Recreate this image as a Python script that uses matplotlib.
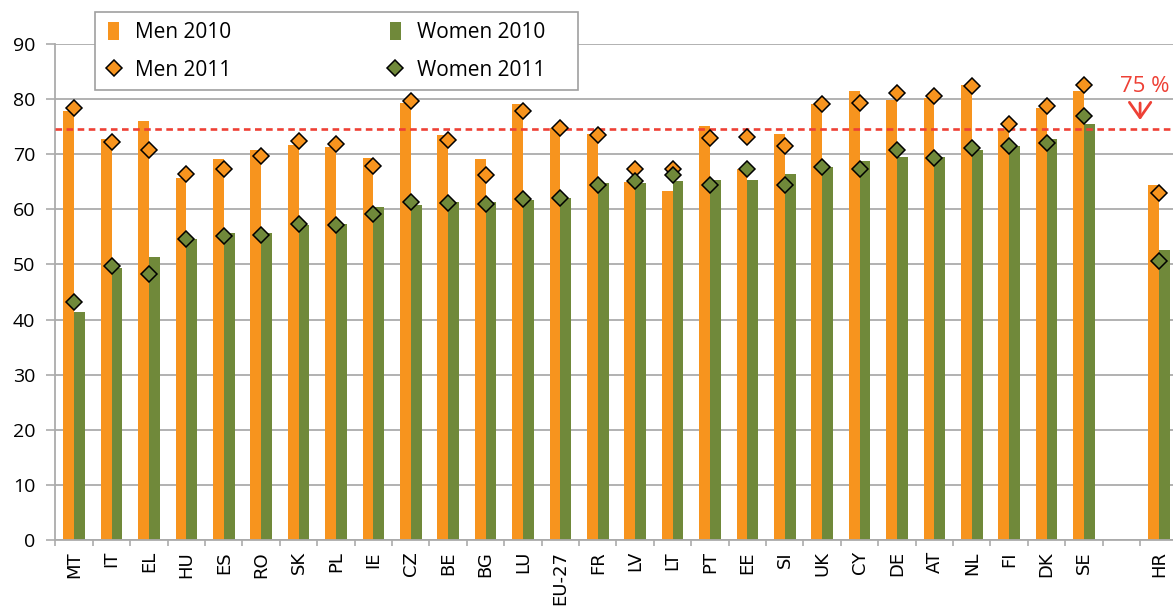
import numpy as np
import matplotlib
matplotlib.use('Agg')
import matplotlib.pyplot as plt
from matplotlib.patches import Patch, Rectangle
from matplotlib.lines import Line2D

# Employment rates by sex, 2010 (bars) and 2011 (diamonds)
countries = ['MT', 'IT', 'EL', 'HU', 'ES', 'RO', 'SK', 'PL', 'IE', 'CZ', 'BE', 'BG', 'LU', 'EU-27',
             'FR', 'LV', 'LT', 'PT', 'EE', 'SI', 'UK', 'CY', 'DE', 'AT', 'NL', 'FI', 'DK', 'SE', 'HR']
men_2010 = [77.8, 72.8, 76.1, 65.7, 69.1, 70.8, 71.7, 71.4, 69.4, 79.3, 73.5, 69.1, 79.2, 74.7,
            73.7, 65.0, 63.4, 75.1, 67.4, 73.7, 79.2, 81.5, 79.8, 80.2, 82.5, 74.5, 78.4, 81.5, 64.4]
women_2010 = [41.4, 49.4, 51.4, 54.7, 55.7, 55.7, 57.1, 57.4, 60.4, 60.7, 61.4, 61.4, 61.7, 62.1,
              64.7, 64.7, 65.1, 65.4, 65.4, 66.5, 67.7, 68.8, 69.5, 69.5, 70.8, 71.5, 72.8, 75.5, 52.7]
men_2011 = [78.4, 72.3, 70.7, 66.5, 67.3, 69.6, 72.4, 71.8, 67.9, 79.6, 72.6, 66.3, 77.8, 74.7,
            73.5, 67.4, 67.4, 73.0, 73.2, 71.5, 79.1, 79.3, 81.1, 80.5, 82.4, 75.4, 78.7, 82.6, 63.0]
women_2011 = [43.2, 49.7, 48.3, 54.6, 55.2, 55.3, 57.3, 57.2, 59.1, 61.3, 61.1, 60.9, 61.8, 62.0,
              64.4, 65.1, 66.3, 64.5, 67.4, 64.5, 67.7, 67.4, 70.8, 69.4, 71.1, 71.5, 72.1, 77.0, 50.7]
target = 74.5  # the "75 %" target line as drawn

ORANGE = '#F7941E'
GREEN = '#70893A'
RED = '#EE4035'
GRID = '#ABABAB'

plt.rcParams['font.family'] = ['Open Sans', 'DejaVu Sans']

# HR sits after an empty slot
x = np.array(list(range(len(countries) - 1)) + [len(countries)])
w = 0.287

fig = plt.figure(figsize=(11.73, 6.07), dpi=100)
ax = fig.add_axes([0.0473, 0.1104, 0.9527, 0.8171])

ax.bar(x - w / 2, men_2010, width=w, color=ORANGE, zorder=2)
ax.bar(x + w / 2, women_2010, width=w, color=GREEN, zorder=2)
ax.plot(x, men_2011, 'D', ms=8, mfc=ORANGE, mec='black', mew=1.1, zorder=4)
ax.plot(x, women_2011, 'D', ms=8, mfc=GREEN, mec='black', mew=1.1, zorder=4)

ax.axhline(target, color=RED, lw=1.9, dashes=(2.5, 1.7), zorder=3)
ax.text(28.62, 82.2, '75 %', color=RED, fontsize=16, ha='center', va='center')
ax.annotate('', xy=(28.5, 75.7), xytext=(28.5, 79.8),
            arrowprops=dict(arrowstyle='->, head_length=0.5, head_width=0.35',
                            color=RED, lw=2, mutation_scale=22))

ax.set_ylim(0, 90)
ax.set_xlim(-0.5, 29.38)
ax.set_yticks(range(0, 91, 10))
ax.yaxis.grid(True, color=GRID, lw=1.3)
ax.set_axisbelow(True)

ax.set_xticks(x)
ax.set_xticklabels(countries, rotation=90, fontsize=13, family='DejaVu Sans')
ax.set_xticks(np.arange(-0.5, 29.5, 1), minor=True)
ax.tick_params(axis='x', which='major', length=0, pad=8)
ax.tick_params(axis='x', which='minor', length=4, color=GRID, width=1.2)
ax.tick_params(axis='y', length=6.5, color=GRID, width=1.2, labelsize=14, pad=8)

for s in ['top', 'right']:
    ax.spines[s].set_visible(False)
for s in ['left', 'bottom']:
    ax.spines[s].set_color(GRID)
    ax.spines[s].set_linewidth(1.3)

# legend box drawn separately so its padding matches the original
fig.patches.append(Rectangle((95 / 1173, 1 - 90 / 607), 483 / 1173, 78 / 607,
                             transform=fig.transFigure, facecolor='white',
                             edgecolor='#A0A0A0', lw=1.2, zorder=4))

handles = [
    Patch(facecolor=ORANGE, label='Men 2010'),
    Line2D([], [], ls='none', marker='D', ms=8, mfc=ORANGE, mec='black', mew=1.1, label='Men 2011'),
    Patch(facecolor=GREEN, label='Women 2010'),
    Line2D([], [], ls='none', marker='D', ms=8, mfc=GREEN, mec='black', mew=1.1, label='Women 2011'),
]
leg = fig.legend(handles=handles, ncol=2, loc='upper left',
                 bbox_to_anchor=(108 / 1173, 1 - 22 / 607),
                 fontsize=15, frameon=False, handlelength=0.55, handleheight=0.92,
                 handletextpad=0.75, labelspacing=0.82, columnspacing=7.6,
                 borderpad=0, borderaxespad=0)
leg.set_zorder(5)

fig.savefig('out.png', dpi=100)
